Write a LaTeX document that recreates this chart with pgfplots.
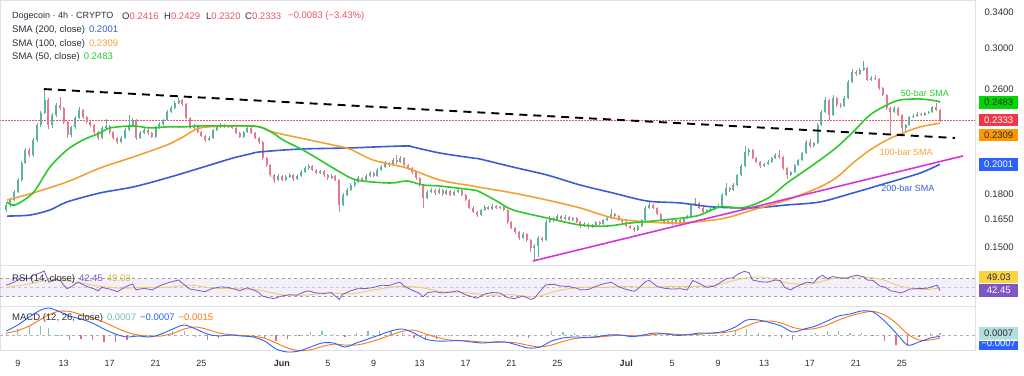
\documentclass[border=0pt]{standalone}
\usepackage{pgfplots}
\pgfplotsset{compat=1.18}
\usepackage{pgfplotstable}
\usepackage{fontspec}
\setmainfont{Liberation Sans}
\definecolor{upc}{RGB}{96,178,160}
\definecolor{dnc}{RGB}{228,122,142}
\definecolor{sma50}{RGB}{45,200,45}
\definecolor{sma100}{RGB}{242,162,52}
\definecolor{sma200}{RGB}{58,92,214}
\definecolor{mag}{RGB}{214,52,214}
\definecolor{txt}{RGB}{42,46,57}
\definecolor{redv}{RGB}{236,84,98}
\definecolor{rsic}{RGB}{126,87,194}
\definecolor{rsima}{RGB}{232,208,112}
\definecolor{rsimatxt}{RGB}{214,182,60}
\definecolor{macdc}{RGB}{41,98,255}
\definecolor{sigc}{RGB}{255,118,20}
\definecolor{hup}{RGB}{120,196,184}
\definecolor{hdn}{RGB}{226,110,118}
\definecolor{sep}{RGB}{222,225,232}
\definecolor{gbox}{RGB}{0,214,0}
\definecolor{rbox}{RGB}{240,56,72}
\definecolor{obox}{RGB}{255,152,0}
\definecolor{boxblue}{RGB}{41,98,255}
\definecolor{ybox}{RGB}{250,212,64}
\definecolor{pbox}{RGB}{126,87,194}
\definecolor{tbox}{RGB}{178,223,219}
\definecolor{histtxt}{RGB}{110,190,178}

\pgfplotstableread{
x o h l c
7.00 0.1707 0.1752 0.1695 0.1737
7.33 0.1737 0.1780 0.1725 0.1767
7.67 0.1767 0.1830 0.1758 0.1817
8.00 0.1817 0.1910 0.1810 0.1895
8.33 0.1895 0.2025 0.1885 0.2010
8.67 0.2010 0.2120 0.2000 0.2103
9.00 0.2103 0.2115 0.2050 0.2067
9.33 0.2067 0.2190 0.2055 0.2178
9.67 0.2178 0.2310 0.2165 0.2295
10.00 0.2295 0.2405 0.2280 0.2392
10.33 0.2392 0.2600 0.2380 0.2503
10.67 0.2503 0.2520 0.2260 0.2295
11.00 0.2295 0.2390 0.2270 0.2376
11.33 0.2376 0.2480 0.2360 0.2460
11.67 0.2460 0.2528 0.2420 0.2434
12.00 0.2434 0.2445 0.2300 0.2319
12.33 0.2319 0.2330 0.2190 0.2216
12.67 0.2216 0.2290 0.2200 0.2279
13.00 0.2279 0.2365 0.2265 0.2351
13.33 0.2351 0.2440 0.2340 0.2417
13.67 0.2417 0.2425 0.2345 0.2359
14.00 0.2359 0.2370 0.2305 0.2319
14.33 0.2319 0.2330 0.2280 0.2295
14.67 0.2295 0.2305 0.2225 0.2239
15.00 0.2239 0.2250 0.2178 0.2193
15.33 0.2193 0.2285 0.2185 0.2271
15.67 0.2271 0.2340 0.2260 0.2287
16.00 0.2287 0.2295 0.2225 0.2239
16.33 0.2239 0.2250 0.2180 0.2193
16.67 0.2193 0.2200 0.2150 0.2163
17.00 0.2163 0.2205 0.2155 0.2193
17.33 0.2193 0.2268 0.2185 0.2255
17.67 0.2255 0.2372 0.2245 0.2295
18.00 0.2295 0.2350 0.2280 0.2335
18.33 0.2335 0.2345 0.2180 0.2193
18.67 0.2193 0.2245 0.2185 0.2231
19.00 0.2231 0.2268 0.2220 0.2255
19.33 0.2255 0.2262 0.2218 0.2231
19.67 0.2231 0.2240 0.2190 0.2201
20.00 0.2201 0.2285 0.2195 0.2271
20.33 0.2271 0.2315 0.2262 0.2303
20.67 0.2303 0.2345 0.2290 0.2335
21.00 0.2335 0.2415 0.2325 0.2401
21.33 0.2401 0.2448 0.2390 0.2434
21.67 0.2434 0.2490 0.2425 0.2477
22.00 0.2477 0.2528 0.2465 0.2503
22.33 0.2503 0.2512 0.2455 0.2469
22.67 0.2469 0.2478 0.2340 0.2351
23.00 0.2351 0.2360 0.2262 0.2271
23.33 0.2271 0.2300 0.2258 0.2287
23.67 0.2287 0.2295 0.2228 0.2239
24.00 0.2239 0.2248 0.2198 0.2208
24.33 0.2208 0.2215 0.2163 0.2178
24.67 0.2178 0.2205 0.2170 0.2193
25.00 0.2193 0.2265 0.2185 0.2255
25.33 0.2255 0.2290 0.2248 0.2279
25.67 0.2279 0.2310 0.2270 0.2295
26.00 0.2295 0.2302 0.2268 0.2279
26.33 0.2279 0.2298 0.2270 0.2287
26.67 0.2287 0.2295 0.2262 0.2271
27.00 0.2271 0.2278 0.2222 0.2231
27.33 0.2231 0.2238 0.2192 0.2201
27.67 0.2201 0.2250 0.2195 0.2239
28.00 0.2239 0.2285 0.2232 0.2271
28.33 0.2271 0.2280 0.2222 0.2231
28.67 0.2231 0.2240 0.2185 0.2193
29.00 0.2193 0.2200 0.2150 0.2163
29.33 0.2163 0.2170 0.2030 0.2045
29.67 0.2045 0.2055 0.1985 0.1996
30.00 0.1996 0.2005 0.1915 0.1928
30.33 0.1928 0.1935 0.1875 0.1895
30.67 0.1895 0.1935 0.1888 0.1922
31.00 0.1922 0.1930 0.1885 0.1895
31.33 0.1895 0.1928 0.1888 0.1915
31.67 0.1915 0.1942 0.1908 0.1928
32.00 0.1928 0.1935 0.1890 0.1902
32.33 0.1902 0.1935 0.1895 0.1922
32.67 0.1922 0.1960 0.1915 0.1948
33.00 0.1948 0.1988 0.1940 0.1975
33.33 0.1975 0.2000 0.1965 0.1989
33.67 0.1989 0.1995 0.1952 0.1962
34.00 0.1962 0.1970 0.1932 0.1942
34.33 0.1942 0.1965 0.1935 0.1955
34.67 0.1955 0.1962 0.1918 0.1928
35.00 0.1928 0.1935 0.1898 0.1908
35.33 0.1908 0.1935 0.1900 0.1922
35.67 0.1922 0.1930 0.1885 0.1895
36.00 0.1895 0.1902 0.1694 0.1737
36.33 0.1737 0.1812 0.1728 0.1798
36.67 0.1798 0.1842 0.1790 0.1830
37.00 0.1830 0.1875 0.1822 0.1862
37.33 0.1862 0.1895 0.1852 0.1882
37.67 0.1882 0.1920 0.1875 0.1908
38.00 0.1908 0.1915 0.1885 0.1895
38.33 0.1895 0.1935 0.1888 0.1922
38.67 0.1922 0.1955 0.1915 0.1942
39.00 0.1942 0.1950 0.1912 0.1922
39.33 0.1922 0.1975 0.1915 0.1962
39.67 0.1962 0.1995 0.1955 0.1982
40.00 0.1982 0.2022 0.1975 0.2010
40.33 0.2010 0.2018 0.1985 0.1996
40.67 0.1996 0.2045 0.1990 0.2031
41.00 0.2031 0.2067 0.2005 0.2017
41.33 0.2017 0.2060 0.2010 0.2045
41.67 0.2045 0.2052 0.1985 0.1996
42.00 0.1996 0.2005 0.1965 0.1975
42.33 0.1975 0.1982 0.1938 0.1948
42.67 0.1948 0.1955 0.1898 0.1908
43.00 0.1908 0.1915 0.1850 0.1862
43.33 0.1862 0.1870 0.1718 0.1780
43.67 0.1780 0.1830 0.1772 0.1817
44.00 0.1817 0.1845 0.1810 0.1830
44.33 0.1830 0.1838 0.1800 0.1811
44.67 0.1811 0.1842 0.1805 0.1830
45.00 0.1830 0.1836 0.1795 0.1805
45.33 0.1805 0.1835 0.1798 0.1824
45.67 0.1824 0.1830 0.1790 0.1798
46.00 0.1798 0.1828 0.1792 0.1817
46.33 0.1817 0.1845 0.1810 0.1830
46.67 0.1830 0.1836 0.1790 0.1798
47.00 0.1798 0.1805 0.1758 0.1767
47.33 0.1767 0.1775 0.1710 0.1719
47.67 0.1719 0.1728 0.1688 0.1695
48.00 0.1695 0.1702 0.1668 0.1677
48.33 0.1677 0.1715 0.1670 0.1707
48.67 0.1707 0.1735 0.1700 0.1725
49.00 0.1725 0.1732 0.1705 0.1713
49.33 0.1713 0.1740 0.1708 0.1731
49.67 0.1731 0.1738 0.1712 0.1719
50.00 0.1719 0.1732 0.1712 0.1725
50.33 0.1725 0.1730 0.1700 0.1707
50.67 0.1707 0.1712 0.1628 0.1637
51.00 0.1637 0.1645 0.1595 0.1603
51.33 0.1603 0.1610 0.1572 0.1581
51.67 0.1581 0.1588 0.1540 0.1548
52.00 0.1548 0.1580 0.1542 0.1570
52.33 0.1570 0.1576 0.1528 0.1537
52.67 0.1537 0.1545 0.1475 0.1495
53.00 0.1495 0.1515 0.1429 0.1506
53.33 0.1506 0.1558 0.1450 0.1548
53.67 0.1548 0.1555 0.1525 0.1537
54.00 0.1537 0.1648 0.1530 0.1637
54.33 0.1637 0.1672 0.1630 0.1659
54.67 0.1659 0.1665 0.1638 0.1648
55.00 0.1648 0.1682 0.1642 0.1671
55.33 0.1671 0.1678 0.1645 0.1654
55.67 0.1654 0.1675 0.1648 0.1665
56.00 0.1665 0.1672 0.1640 0.1648
56.33 0.1648 0.1668 0.1642 0.1659
56.67 0.1659 0.1665 0.1630 0.1637
57.00 0.1637 0.1642 0.1605 0.1614
57.33 0.1614 0.1635 0.1608 0.1626
57.67 0.1626 0.1632 0.1600 0.1609
58.00 0.1609 0.1628 0.1603 0.1620
58.33 0.1620 0.1645 0.1615 0.1637
58.67 0.1637 0.1642 0.1618 0.1626
59.00 0.1626 0.1656 0.1620 0.1648
59.33 0.1648 0.1668 0.1642 0.1659
59.67 0.1659 0.1710 0.1652 0.1683
60.00 0.1683 0.1690 0.1662 0.1671
60.33 0.1671 0.1678 0.1640 0.1648
60.67 0.1648 0.1655 0.1630 0.1637
61.00 0.1637 0.1642 0.1606 0.1614
61.33 0.1614 0.1620 0.1595 0.1603
61.67 0.1603 0.1610 0.1580 0.1592
62.00 0.1592 0.1622 0.1585 0.1614
62.33 0.1614 0.1656 0.1608 0.1648
62.67 0.1648 0.1728 0.1642 0.1719
63.00 0.1719 0.1760 0.1712 0.1737
63.33 0.1737 0.1745 0.1710 0.1719
63.67 0.1719 0.1725 0.1675 0.1683
64.00 0.1683 0.1690 0.1640 0.1648
64.33 0.1648 0.1655 0.1628 0.1637
64.67 0.1637 0.1650 0.1630 0.1642
65.00 0.1642 0.1648 0.1622 0.1631
65.33 0.1631 0.1656 0.1625 0.1648
65.67 0.1648 0.1654 0.1630 0.1637
66.00 0.1637 0.1666 0.1632 0.1659
66.33 0.1659 0.1680 0.1652 0.1671
66.67 0.1671 0.1745 0.1665 0.1737
67.00 0.1737 0.1780 0.1730 0.1748
67.33 0.1748 0.1755 0.1712 0.1719
67.67 0.1719 0.1725 0.1688 0.1695
68.00 0.1695 0.1715 0.1690 0.1707
68.33 0.1707 0.1720 0.1700 0.1713
68.67 0.1713 0.1732 0.1706 0.1725
69.00 0.1725 0.1740 0.1718 0.1731
69.33 0.1731 0.1810 0.1725 0.1798
69.67 0.1798 0.1875 0.1790 0.1843
70.00 0.1843 0.1850 0.1820 0.1830
70.33 0.1830 0.1872 0.1822 0.1862
70.67 0.1862 0.1938 0.1855 0.1928
71.00 0.1928 0.2000 0.1920 0.1989
71.33 0.1989 0.2133 0.1980 0.2089
71.67 0.2089 0.2115 0.2060 0.2103
72.00 0.2103 0.2110 0.2035 0.2045
72.33 0.2045 0.2052 0.2008 0.2017
72.67 0.2017 0.2025 0.1978 0.1989
73.00 0.1989 0.2012 0.1982 0.2003
73.33 0.2003 0.2028 0.1995 0.2017
73.67 0.2017 0.2055 0.2010 0.2045
74.00 0.2045 0.2078 0.2038 0.2067
74.33 0.2067 0.2103 0.2040 0.2053
74.67 0.2053 0.2060 0.1965 0.1975
75.00 0.1975 0.1982 0.1900 0.1928
75.33 0.1928 0.1958 0.1920 0.1948
75.67 0.1948 0.2005 0.1940 0.1996
76.00 0.1996 0.2040 0.1988 0.2031
76.33 0.2031 0.2090 0.2025 0.2081
76.67 0.2081 0.2175 0.2075 0.2163
77.00 0.2163 0.2185 0.2120 0.2133
77.33 0.2133 0.2165 0.2125 0.2155
77.67 0.2155 0.2310 0.2148 0.2295
78.00 0.2295 0.2415 0.2285 0.2401
78.33 0.2401 0.2528 0.2390 0.2503
78.67 0.2503 0.2512 0.2335 0.2376
79.00 0.2376 0.2545 0.2365 0.2520
79.33 0.2520 0.2530 0.2445 0.2460
79.67 0.2460 0.2475 0.2430 0.2452
80.00 0.2452 0.2535 0.2445 0.2520
80.33 0.2520 0.2680 0.2512 0.2665
80.67 0.2665 0.2790 0.2655 0.2760
81.00 0.2760 0.2775 0.2725 0.2741
81.33 0.2741 0.2795 0.2732 0.2779
81.67 0.2779 0.2866 0.2768 0.2795
82.00 0.2795 0.2805 0.2670 0.2684
82.33 0.2684 0.2720 0.2675 0.2703
82.67 0.2703 0.2735 0.2680 0.2693
83.00 0.2693 0.2700 0.2595 0.2609
83.33 0.2609 0.2618 0.2535 0.2547
83.67 0.2547 0.2555 0.2420 0.2434
84.00 0.2434 0.2445 0.2216 0.2401
84.33 0.2401 0.2448 0.2390 0.2434
84.67 0.2434 0.2442 0.2365 0.2376
85.00 0.2376 0.2385 0.2216 0.2271
85.33 0.2271 0.2305 0.2230 0.2295
85.67 0.2295 0.2368 0.2288 0.2359
86.00 0.2359 0.2385 0.2350 0.2368
86.33 0.2368 0.2398 0.2360 0.2384
86.67 0.2384 0.2392 0.2365 0.2376
87.00 0.2376 0.2402 0.2368 0.2392
87.33 0.2392 0.2410 0.2380 0.2401
87.67 0.2401 0.2452 0.2395 0.2440
88.00 0.2440 0.2473 0.2408 0.2416
88.33 0.2416 0.2429 0.2320 0.2333
}\candles

\pgfplotstableread{
x p
7.06 0.1755
7.75 0.1737
9.32 0.1811
10.80 0.1982
12.28 0.2103
13.68 0.2178
15.16 0.2231
16.03 0.2271
18.03 0.2287
19.51 0.2271
20.99 0.2279
22.39 0.2279
23.87 0.2287
26.74 0.2287
28.22 0.2287
29.09 0.2279
30.23 0.2231
31.10 0.2178
32.84 0.2103
34.32 0.2031
36.06 0.1948
37.54 0.1894
40.42 0.1875
41.90 0.1888
43.29 0.1862
44.77 0.1855
47.65 0.1830
48.26 0.1817
49.74 0.1760
51.13 0.1707
54.09 0.1660
56.97 0.1620
59.32 0.1614
61.32 0.1631
64.20 0.1648
67.16 0.1672
69.16 0.1725
70.91 0.1719
72.04 0.1737
73.52 0.1786
75.00 0.1875
76.39 0.1948
77.87 0.2031
79.36 0.2125
80.75 0.2239
82.23 0.2376
83.71 0.2460
84.84 0.2503
86.59 0.2512
88.07 0.2494
88.33 0.2483
}\smafifty

\pgfplotstableread{
x p
7.06 0.1767
9.32 0.1811
12.28 0.1882
15.16 0.1975
18.03 0.2052
20.99 0.2140
22.39 0.2201
23.87 0.2271
26.74 0.2287
29.09 0.2279
30.23 0.2239
32.58 0.2193
35.45 0.2140
36.93 0.2110
38.94 0.2031
41.90 0.1975
44.77 0.1894
47.65 0.1855
49.13 0.1836
51.13 0.1811
54.09 0.1767
56.97 0.1719
59.84 0.1660
62.80 0.1637
65.68 0.1631
68.55 0.1648
70.03 0.1666
72.04 0.1707
75.00 0.1767
77.87 0.1849
79.36 0.1914
80.75 0.2010
82.23 0.2103
83.71 0.2178
85.10 0.2231
86.59 0.2279
88.33 0.2309
}\smahundred

\pgfplotstableread{
x p
7.06 0.1671
9.06 0.1677
10.80 0.1707
12.28 0.1755
15.16 0.1811
18.03 0.1849
20.99 0.1908
23.87 0.1975
26.74 0.2045
28.22 0.2074
29.09 0.2089
32.58 0.2110
36.93 0.2118
38.94 0.2125
41.90 0.2133
42.42 0.2125
44.77 0.2081
47.65 0.2045
48.26 0.2038
51.13 0.1982
54.09 0.1928
56.97 0.1862
59.84 0.1811
62.80 0.1761
65.68 0.1749
68.55 0.1725
72.04 0.1719
75.00 0.1737
77.87 0.1755
80.75 0.1811
83.71 0.1875
86.59 0.1941
88.33 0.2001
}\smatwohundred

\pgfplotstableread{
x r
7.0 55
7.7 62
8.3 72
9.0 70
9.3 78
10.0 84
10.3 88
10.7 62
11.3 68
11.7 66
12.0 55
12.3 47
12.7 52
13.0 58
13.3 62
13.7 56
14.0 52
14.7 46
15.0 42
15.3 50
16.0 46
16.7 40
17.3 50
17.7 55
18.0 58
18.3 44
19.0 48
19.7 44
20.3 53
21.0 60
21.7 65
22.0 67
22.7 52
23.0 46
23.7 43
24.3 40
25.0 48
25.7 51
26.3 50
27.0 45
27.3 42
28.0 49
28.7 42
29.0 38
29.3 30
29.7 27
30.3 24
31.0 30
31.7 33
32.3 32
33.0 40
33.3 42
34.0 37
34.7 36
35.3 38
36.0 22
36.3 34
37.0 42
37.7 48
38.3 47
39.0 50
39.7 55
40.3 54
41.0 60
41.3 62
41.7 52
42.3 44
43.0 36
43.3 28
43.7 38
44.3 40
45.0 37
45.7 39
46.3 42
47.0 33
47.7 27
48.0 25
48.7 35
49.3 38
50.0 37
50.7 26
51.3 24
52.0 30
52.7 22
53.0 25
53.3 35
54.0 56
54.7 57
55.3 53
56.0 52
56.7 48
57.0 44
57.7 45
58.3 52
59.0 58
59.7 62
60.3 52
61.0 45
61.7 41
62.0 46
62.7 64
63.0 66
63.7 52
64.3 48
65.0 46
65.7 47
66.3 44
66.8 66
67.3 60
68.0 50
68.7 53
69.3 63
69.8 71
70.3 72
70.7 80
71.0 84
71.3 87
71.7 84
72.0 67
72.7 63
73.3 62
74.0 67
74.4 66
74.8 50
75.3 44
75.7 50
76.1 55
76.7 62
77.3 60
77.7 72
78.1 78
78.5 70
79.0 75
79.5 72
80.2 71
80.7 76
81.1 78
81.7 74
82.0 67
82.5 66
83.1 53
83.6 50
84.0 42
84.5 40
84.9 37
85.3 41
85.7 46
86.3 47
87.2 48
87.7 52
88.1 55
88.33 42.45
}\rsi

\pgfplotstableread{
x r
7 50
9 58
11 68
13 62
15 53
17 48
19 50
21 50
23 55
25 48
27 47
29 44
31 33
33 32
35 37
37 35
39 44
41 52
43 50
45 40
47 38
49 32
51 33
53 28
55 42
57 50
59 50
61 52
63 50
65 52
67 52
69 56
71 70
73 74
75 60
77 58
79 70
81 74
83 70
85 52
87 45
88.33 49.03
}\rsima

\pgfplotstableread{
x m s hh
7 0.0020 0.0010 0.0010
8 0.0050 0.0022 0.0028
9 0.0090 0.0045 0.0045
10 0.0125 0.0078 0.0047
10.7 0.0135 0.0100 0.0035
11.5 0.0120 0.0118 0.0002
12.5 0.0095 0.0118 -0.0023
13.5 0.0080 0.0102 -0.0022
14.5 0.0060 0.0085 -0.0025
15.5 0.0030 0.0064 -0.0034
16.5 0.0005 0.0038 -0.0033
17.5 -0.0010 0.0014 -0.0024
18.5 -0.0005 0.0000 -0.0005
19.5 -0.0010 -0.0006 -0.0004
20.5 0.0005 -0.0005 0.0010
21.5 0.0030 0.0008 0.0022
22.5 0.0050 0.0030 0.0020
23.5 0.0030 0.0040 -0.0010
24.5 0.0005 0.0028 -0.0023
25.5 -0.0005 0.0010 -0.0015
26.5 0.0000 0.0002 -0.0002
27.5 -0.0005 -0.0002 -0.0003
28.5 -0.0010 -0.0006 -0.0004
29.5 -0.0030 -0.0016 -0.0014
30.5 -0.0070 -0.0040 -0.0030
31.5 -0.0085 -0.0065 -0.0020
32.5 -0.0080 -0.0078 -0.0002
33.5 -0.0060 -0.0074 0.0014
34.5 -0.0040 -0.0058 0.0018
35.5 -0.0040 -0.0046 0.0006
36.5 -0.0060 -0.0050 -0.0010
37.5 -0.0040 -0.0050 0.0010
38.5 -0.0020 -0.0038 0.0018
39.5 0.0000 -0.0020 0.0020
40.5 0.0020 0.0000 0.0020
41.5 0.0030 0.0018 0.0012
42.5 0.0010 0.0024 -0.0014
43.5 -0.0020 0.0006 -0.0026
44.5 -0.0030 -0.0012 -0.0018
45.5 -0.0030 -0.0024 -0.0006
46.5 -0.0028 -0.0028 0.0000
47.5 -0.0035 -0.0030 -0.0005
48.5 -0.0040 -0.0035 -0.0005
49.5 -0.0035 -0.0037 0.0002
50.5 -0.0035 -0.0036 0.0001
51.5 -0.0050 -0.0040 -0.0010
52.5 -0.0065 -0.0052 -0.0013
53.5 -0.0060 -0.0060 0.0000
54.5 -0.0030 -0.0050 0.0020
55.5 -0.0015 -0.0032 0.0017
56.5 -0.0010 -0.0018 0.0008
57.5 -0.0012 -0.0013 0.0001
58.5 -0.0008 -0.0011 0.0003
59.5 0.0000 -0.0005 0.0005
60.5 0.0000 -0.0001 0.0001
61.5 -0.0008 -0.0004 -0.0004
62.5 0.0000 -0.0004 0.0004
63.5 0.0010 0.0003 0.0007
64.5 0.0005 0.0007 -0.0002
65.5 -0.0002 0.0003 -0.0005
66.5 0.0003 0.0001 0.0002
67.5 0.0010 0.0005 0.0005
68.5 0.0010 0.0009 0.0001
69.5 0.0018 0.0012 0.0006
70.5 0.0040 0.0022 0.0018
71.5 0.0075 0.0045 0.0030
72.5 0.0075 0.0065 0.0010
73.5 0.0062 0.0070 -0.0008
74.5 0.0045 0.0060 -0.0015
75.5 0.0015 0.0038 -0.0023
76.5 0.0030 0.0028 0.0002
77.5 0.0045 0.0033 0.0012
78.5 0.0070 0.0050 0.0020
79.5 0.0095 0.0075 0.0020
80.5 0.0105 0.0095 0.0010
81.5 0.0120 0.0110 0.0010
82.5 0.0115 0.0118 -0.0003
83.5 0.0070 0.0100 -0.0030
84.5 0.0010 0.0060 -0.0050
85.5 -0.0050 0.0005 -0.0055
86.5 -0.0035 -0.0025 -0.0010
87.5 -0.0015 -0.0025 0.0010
88.33 -0.0007 -0.0015 0.0008
}\macd

\pgfplotsset{
  tv/.style={scale only axis, width=975pt, xmin=6.45, xmax=91.38, anchor=south west,
    axis line style={draw=sep, line width=0.6pt}, major tick length=0pt, clip=false,
    xtick=\empty, ytick=\empty,
    tick label style={text=txt, font=\fontsize{9.5}{11}\selectfont}},
  candlewick/.style={draw=none, mark=none, unbounded coords=discard,
    error bars/.cd, y dir=plus, y explicit, error mark=none,
    error bar style={draw=#1, line width=0.55pt}},
  candlebody/.style={draw=none, mark=none, unbounded coords=discard,
    error bars/.cd, y dir=plus, y explicit, error mark=none,
    error bar style={draw=#1, line width=2.0pt}},
}
\tikzset{pricebox/.style={anchor=west, minimum width=39pt, minimum height=12.5pt, inner sep=0pt,
    xshift=4pt, font=\fontsize{9.5}{11}\selectfont}}

\begin{document}
\begin{tikzpicture}[font=\fontsize{9.5}{11}\selectfont]
\useasboundingbox (0pt,0pt) rectangle (1024pt,375pt);

% ---------------- main price panel
\begin{axis}[tv, at={(0pt,110pt)}, height=265pt,
  ymode=log, ymin=0.14092, ymax=0.35454,
  ytick={0.15,0.165,0.18,0.26,0.30,0.34},
  yticklabels={0.1500,0.1650,0.1800,0.2600,0.3000,0.3400},
  yticklabel pos=right, yticklabel style={anchor=west, xshift=6pt}]
\addplot[redv, densely dotted, line width=0.5pt] coordinates {(6.45,0.2333) (91.38,0.2333)};
% candles: wicks then bodies
\addplot[candlewick=upc] table[x=x, y expr={\thisrow{c}<\thisrow{o} ? nan : \thisrow{l}}, y error expr={\thisrow{h}-\thisrow{l}}] {\candles};
\addplot[candlewick=dnc] table[x=x, y expr={\thisrow{c}<\thisrow{o} ? \thisrow{l} : nan}, y error expr={\thisrow{h}-\thisrow{l}}] {\candles};
\addplot[candlebody=upc] table[x=x, y expr={\thisrow{c}<\thisrow{o} ? nan : \thisrow{o}}, y error expr={\thisrow{c}-\thisrow{o}}] {\candles};
\addplot[candlebody=dnc] table[x=x, y expr={\thisrow{c}<\thisrow{o} ? \thisrow{c} : nan}, y error expr={\thisrow{o}-\thisrow{c}}] {\candles};
% moving averages
\addplot[sma200, line width=1.6pt, smooth] table[x=x, y=p] {\smatwohundred};
\addplot[sma100, line width=1.6pt, smooth] table[x=x, y=p] {\smahundred};
\addplot[sma50, line width=1.6pt, smooth] table[x=x, y=p] {\smafifty};
% trend lines
\addplot[black, line width=1.9pt, dash pattern=on 8pt off 6pt] coordinates {(10.28,0.2600) (89.63,0.2193)};
\addplot[mag, line width=1.6pt] coordinates {(52.87,0.1429) (90.33,0.2060)};
% labels
\node[text=sma50, font=\fontsize{9}{10}\selectfont] at (axis cs:87.02,0.2565) {50-bar SMA};
\node[text=sma100, font=\fontsize{9}{10}\selectfont] at (axis cs:85.37,0.2089) {100-bar SMA};
\node[text=sma200, font=\fontsize{9}{10}\selectfont] at (axis cs:85.54,0.1842) {200-bar SMA};
% price boxes
\node[pricebox, fill=gbox, text=txt] at (axis cs:91.38,0.2483) {0.2483};
\node[pricebox, fill=rbox, text=white] at (axis cs:91.38,0.2333) {0.2333};
\node[pricebox, fill=obox, text=txt] at (axis cs:91.38,0.2216) {0.2309};
\node[pricebox, fill=boxblue, text=white] at (axis cs:91.38,0.2001) {0.2001};
\end{axis}

% ---------------- RSI panel
\begin{axis}[tv, at={(0pt,69pt)}, height=41pt, ymin=6.9, ymax=101.7]
\addplot[draw=none, fill=rsic, fill opacity=0.09] coordinates {(6.45,30) (91.38,30) (91.38,70) (6.45,70) (6.45,30)};
\addplot[gray!75, dash pattern=on 3pt off 3pt, line width=0.5pt] coordinates {(6.45,70) (91.38,70)};
\addplot[gray!45, dash pattern=on 3pt off 3pt, line width=0.5pt] coordinates {(6.45,50) (91.38,50)};
\addplot[gray!75, dash pattern=on 3pt off 3pt, line width=0.5pt] coordinates {(6.45,30) (91.38,30)};
\addplot[rsima, line width=0.9pt, smooth] table[x=x, y=r] {\rsima};
\addplot[rsic, line width=0.8pt] table[x=x, y=r] {\rsi};
\node[pricebox, fill=ybox, text=txt] at (axis cs:91.38,73.9) {49.03};
\node[pricebox, fill=pbox, text=white] at (axis cs:91.38,42.45) {42.45};
\end{axis}

% ---------------- MACD panel
\begin{axis}[tv, at={(0pt,25pt)}, height=44pt, ymin=-0.0075, ymax=0.0145,
  xtick={8,12,16,20,24,31,35,39,43,47,51,55,61,65,69,73,77,81,85},
  xticklabels={9,13,17,21,25,\textbf{Jun},5,9,13,17,21,25,\textbf{Jul},5,9,13,17,21,25},
  xticklabel style={yshift=-6.5pt, font=\fontsize{9}{10}\selectfont}]
\addplot[gray!60, dash pattern=on 3pt off 3pt, line width=0.5pt] coordinates {(6.45,0) (91.38,0)};
\addplot[ycomb, hup, line width=1.3pt, unbounded coords=discard] table[x=x, y expr={\thisrow{hh}>0 ? \thisrow{hh} : nan}] {\macd};
\addplot[ycomb, hdn, line width=1.3pt, unbounded coords=discard] table[x=x, y expr={\thisrow{hh}<0 ? \thisrow{hh} : nan}] {\macd};
\addplot[sigc, line width=0.9pt, smooth] table[x=x, y=s] {\macd};
\addplot[macdc, line width=0.9pt, smooth] table[x=x, y=m] {\macd};
\node[pricebox, fill=tbox, text=txt] at (axis cs:91.38,0.0007) {0.0007};
\node[pricebox, fill=boxblue, text=white, minimum height=9pt, anchor=north west] at (axis cs:91.38,-0.0030) {\raisebox{-1pt}{\smash{−0.0007}}};
\end{axis}

% ---------------- legends / titles
\node[anchor=west, inner sep=0pt, text=txt, font=\fontsize{9}{11}\selectfont] at (12pt,359pt) {Dogecoin · 4h · CRYPTO};
\node[anchor=west, inner sep=0pt] at (122pt,359pt) {\textcolor{txt}{O}\textcolor{redv}{0.2416}};
\node[anchor=west, inner sep=0pt] at (164pt,359pt) {\textcolor{txt}{H}\textcolor{redv}{0.2429}};
\node[anchor=west, inner sep=0pt] at (206pt,359pt) {\textcolor{txt}{L}\textcolor{redv}{0.2320}};
\node[anchor=west, inner sep=0pt] at (245pt,359pt) {\textcolor{txt}{C}\textcolor{redv}{0.2333}};
\node[anchor=west, inner sep=0pt, text=redv] at (288pt,359pt) {−0.0083 (−3.43\%)};
\node[anchor=west, inner sep=0pt] at (12pt,345pt) {\textcolor{txt}{SMA (200, close)}\hspace{4pt}\textcolor{sma200}{0.2001}};
\node[anchor=west, inner sep=0pt] at (12pt,331pt) {\textcolor{txt}{SMA (100, close)}\hspace{4pt}\textcolor{sma100}{0.2309}};
\node[anchor=west, inner sep=0pt] at (12pt,318pt) {\textcolor{txt}{SMA (50, close)}\hspace{4pt}\textcolor{sma50}{0.2483}};
\node[anchor=west, inner sep=0pt] at (12pt,96pt) {\textcolor{txt}{RSI (14, close)}\hspace{4pt}\textcolor{rsic}{42.45}\hspace{4pt}\textcolor{rsimatxt}{49.03}};
\node[anchor=west, inner sep=0pt] at (12pt,57pt) {\textcolor{txt}{MACD (12, 26, close)}\hspace{4pt}\textcolor{histtxt}{0.0007}\hspace{4pt}\textcolor{macdc}{−0.0007}\hspace{4pt}\textcolor{sigc}{−0.0015}};
\end{tikzpicture}
\end{document}
